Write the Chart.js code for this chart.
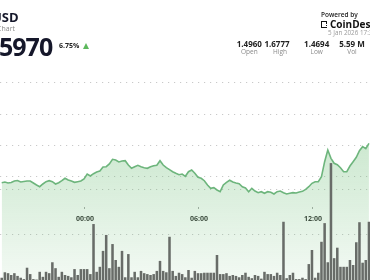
<!DOCTYPE html>
<html>
<head>
<meta charset="utf-8">
<script src="https://cdn.jsdelivr.net/npm/chart.js@4.4.1/dist/chart.umd.min.js"></script>
<style>
  html, body { margin:0; padding:0; background:#fff; }
  body { width:370px; height:280px; overflow:hidden; position:relative; font-family:"Open Sans", sans-serif; }
  #wrap { position:absolute; left:0; top:0; width:370px; height:280px; }
  .t { position:absolute; white-space:nowrap; line-height:1; }
  .stat { position:absolute; width:44px; text-align:center; white-space:nowrap; line-height:1; }
</style>
</head>
<body>
<div id="wrap"><canvas id="c" width="370" height="280"></canvas></div>

<div class="t" style="right:351.5px; top:11px; font-size:13px; font-weight:700; color:#15172a;">USD</div>
<div class="t" style="right:355px; top:24.8px; font-size:7px; color:#8a8a8a;">Chart</div>
<div class="t" style="left:-1px; top:34.2px; font-size:25px; font-weight:700; letter-spacing:-1px; color:#15172a;">5970</div>
<div class="t" style="left:59px; top:42.1px; font-size:7px; font-weight:700; color:#222;">6.75%</div>
<div style="position:absolute; left:83px; top:42.5px; width:0; height:0; border-left:3.5px solid transparent; border-right:3.5px solid transparent; border-bottom:6px solid #5cb85c;"></div>

<div class="t" style="left:321px; top:12.2px; font-size:6.5px; font-weight:600; color:#222;">Powered by</div>
<div style="position:absolute; left:321px; top:20.5px; width:5px; height:5px; border:1.3px solid #111; border-right:none;"></div>
<div style="position:absolute; left:325.5px; top:22px; width:1.5px; height:1.5px; background:#111;"></div>
<div style="position:absolute; left:325.5px; top:24.5px; width:1.5px; height:1.5px; background:#111;"></div>
<div class="t" style="left:330px; top:18.6px; font-size:10px; font-weight:700; color:#111;">CoinDesk</div>
<div class="t" style="left:328px; top:29.9px; font-size:6.3px; color:#9a9a9a;">5 Jan 2026 17:30</div>

<div class="stat" style="left:227.3px; top:39.9px; font-size:8px; font-weight:700; color:#222;">1.4960</div>
<div class="stat" style="left:255px; top:39.9px; font-size:8px; font-weight:700; color:#222;">1.6777</div>
<div class="stat" style="left:294.7px; top:39.9px; font-size:8px; font-weight:700; color:#222;">1.4694</div>
<div class="stat" style="left:330px; top:39.9px; font-size:8px; font-weight:700; color:#222;">5.59 M</div>
<div class="stat" style="left:227.3px; top:49.2px; font-size:6.5px; color:#8a8a8a;">Open</div>
<div class="stat" style="left:258px; top:49.2px; font-size:6.5px; color:#8a8a8a;">High</div>
<div class="stat" style="left:294.7px; top:49.2px; font-size:6.5px; color:#8a8a8a;">Low</div>
<div class="stat" style="left:330px; top:49.2px; font-size:6.5px; color:#8a8a8a;">Vol</div>

<script>
// ---- data ----
// 10-minute bars, time in minutes relative to 00:00
const START_MINUTE = -263;
const STEP_MINUTES = 10;

const prices = [
  1.4892, 1.4903, 1.4887, 1.4895, 1.4919, 1.4927, 1.4903, 1.4911, 1.4919, 1.4919,
  1.4887, 1.4855, 1.4827, 1.4871, 1.4908, 1.4924, 1.4908, 1.4871, 1.4892, 1.4924,
  1.4963, 1.4935, 1.4919, 1.4898, 1.4908, 1.4919, 1.4952, 1.5032, 1.5000, 1.5037,
  1.5065, 1.5081, 1.5145, 1.5150, 1.5194, 1.5269, 1.5258, 1.5226, 1.5242, 1.5247,
  1.5177, 1.5124, 1.5150, 1.5173, 1.5150, 1.5134, 1.5124, 1.5150, 1.5166, 1.5173,
  1.5247, 1.5177, 1.5134, 1.5102, 1.5069, 1.5044, 1.5021, 1.5032, 1.4995, 1.5069,
  1.5097, 1.5044, 1.4979, 1.4963, 1.4924, 1.4855, 1.4802, 1.4811, 1.4774, 1.4747,
  1.4855, 1.4898, 1.4931, 1.4903, 1.4887, 1.4876, 1.4827, 1.4806, 1.4747, 1.4802,
  1.4758, 1.4731, 1.4747, 1.4721, 1.4747, 1.4737, 1.4710, 1.4747, 1.4758, 1.4731,
  1.4710, 1.4721, 1.4731, 1.4726, 1.4742, 1.4753, 1.4785, 1.4827, 1.4882, 1.4908,
  1.4908, 1.4989, 1.5231, 1.5419, 1.5285, 1.5205, 1.5182, 1.5134, 1.5069, 1.5069,
  1.5161, 1.5231, 1.5302, 1.5408, 1.5473, 1.5440, 1.5527
];

// volume per bar, thousands
const volumes = [
  5, 17, 15, 11, 15, 9, 5, 2, 27, 13, 2, 1, 18, 7, 18, 15, 39, 26, 7, 18,
  11, 9, 6, 24, 11, 24, 24, 24, 13, 123, 18, 29, 64, 99, 26, 79, 44, 29, 64,
  6, 57, 6, 18, 6, 20, 15, 13, 11, 13, 20, 42, 20, 17, 95, 20, 9, 16, 13, 6,
  22, 5, 20, 15, 15, 16, 16, 16, 16, 55, 13, 13, 15, 9, 11, 9, 6, 11,
  16, 7, 4, 11, 9, 3, 18, 13, 13, 9, 16, 11, 128, 4, 11, 16, 2, 2, 5, 2,
  35, 66, 5, 16, 84, 125, 39, 257, 48, 71, 29, 29, 29, 44, 33, 83, 127, 38, 44, 128
];

const timeTicks = [0, 360, 720];
const timeTickLabels = ['00:00', '06:00', '12:00'];
const priceGridValues = [1.50, 1.55, 1.60, 1.65];
const volumeGridValues = [100, 200];
const AXIS_PRICE = 1.45;

// ---- build ----
const times = prices.map((_, i) => START_MINUTE + i * STEP_MINUTES);
const linePts = prices.map((p, i) => ({ x: times[i], y: p }));
const volPts = volumes.map((v, i) => ({ x: times[i], y: v }));

const gridColor = '#c9c9c9';

new Chart(document.getElementById('c'), {
  data: {
    datasets: [
      {
        type: 'bar',
        data: volPts,
        yAxisID: 'yv',
        backgroundColor: '#686c68',
        borderWidth: 0,
        barPercentage: 1.0,
        categoryPercentage: 0.8,
        order: 0
      },
      {
        type: 'line',
        data: linePts,
        yAxisID: 'y',
        borderColor: '#6db57c',
        borderWidth: 1.6,
        pointRadius: 0,
        tension: 0,
        fill: 'start',
        backgroundColor: (ctx) => {
          const ch = ctx.chart;
          const area = ch.chartArea;
          if (!area) return 'rgba(100,185,110,0.2)';
          const g = ch.ctx.createLinearGradient(0, 140, 0, area.bottom);
          g.addColorStop(0, 'rgba(100,185,110,0.33)');
          g.addColorStop(1, 'rgba(100,185,110,0.08)');
          return g;
        },
        order: 1
      }
    ]
  },
  options: {
    responsive: false,
    animation: false,
    devicePixelRatio: 1,
    layout: { padding: 0 },
    plugins: { legend: { display: false }, tooltip: { enabled: false } },
    scales: {
      x: {
        type: 'linear',
        offset: false,
        min: -268.4,
        max: 900.3,
        position: { y: AXIS_PRICE },
        afterBuildTicks: (s) => { s.ticks = timeTicks.map(v => ({ value: v })); },
        ticks: {
          callback: (v) => timeTickLabels[timeTicks.indexOf(v)],
          font: { family: 'Open Sans', size: 7, weight: 'bold' },
          color: '#333',
          padding: 6,
          maxRotation: 0,
          autoSkip: false
        },
        grid: { offset: false, drawOnChartArea: false, drawTicks: true, tickLength: 2, color: '#aaa' },
        border: { display: false }
      },
      y: {
        position: 'left',
        min: 1.33226,
        max: 1.78387,
        afterBuildTicks: (s) => { s.ticks = priceGridValues.map(v => ({ value: v })); },
        ticks: { display: false },
        grid: { color: gridColor, lineWidth: 1, drawTicks: false },
        border: { display: false, dash: [1.2, 4.8] }
      },
      yv: {
        position: 'right',
        min: 0,
        max: 615.4,
        afterBuildTicks: (s) => { s.ticks = volumeGridValues.map(v => ({ value: v })); },
        ticks: { display: false },
        grid: { color: gridColor, lineWidth: 1, drawTicks: false },
        border: { display: false, dash: [1.2, 4.8] }
      }
    }
  }
});
</script>
</body>
</html>
